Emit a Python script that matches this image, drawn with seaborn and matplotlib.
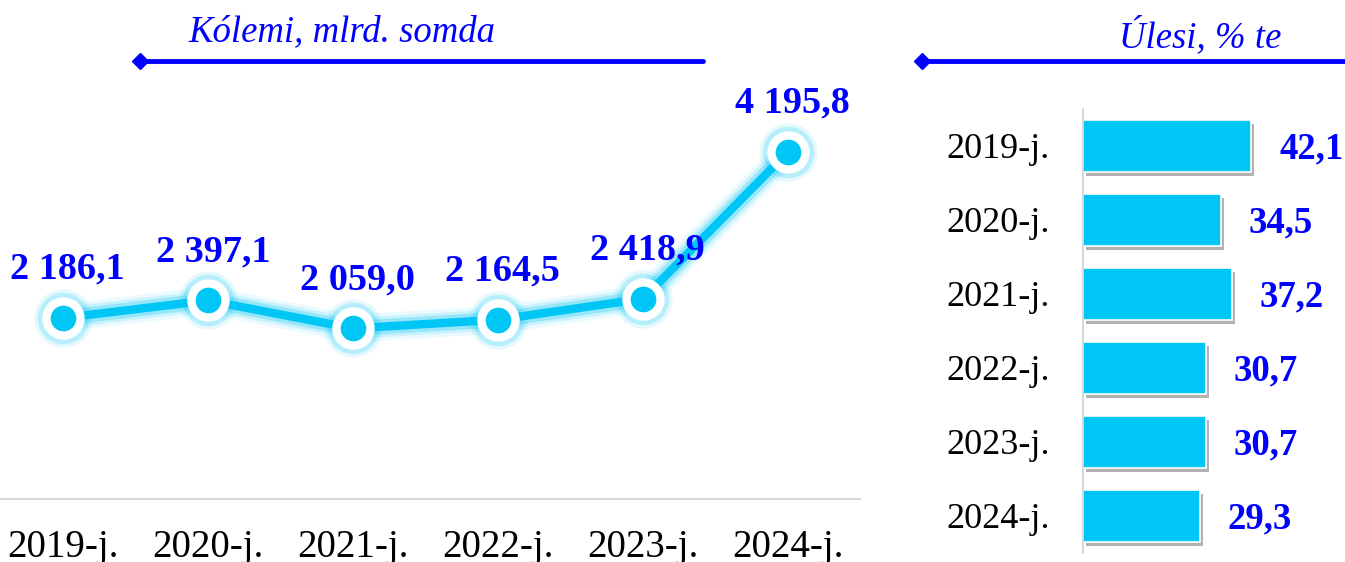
import matplotlib
matplotlib.use("Agg")
import matplotlib.pyplot as plt
import matplotlib.patheffects as pe
from matplotlib.lines import Line2D
import seaborn as sns
import pandas as pd

# data
years = ["2019-j.", "2020-j.", "2021-j.", "2022-j.", "2023-j.", "2024-j."]
volume = [2186.1, 2397.1, 2059.0, 2164.5, 2418.9, 4195.8]
volume_labels = ["2 186,1", "2 397,1", "2 059,0", "2 164,5", "2 418,9", "4 195,8"]
share = [42.1, 34.5, 37.2, 30.7, 30.7, 29.3]
share_labels = ["42,1", "34,5", "37,2", "30,7", "30,7", "29,3"]

left_title = "Kólemi, mlrd. somda"
right_title = "Úlesi, % te"

sns.set_style("white")
plt.rcParams["font.family"] = ["Liberation Serif", "DejaVu Serif"]

BLUE = "#0000FF"
CYAN = "#00C6F5"

W, H = 1345, 562
fig = plt.figure(figsize=(W / 100, H / 100), dpi=100)

# ---- left: line chart of volume
df = pd.DataFrame({"pos": range(len(years)), "volume": volume})
ax1 = fig.add_axes([0, 63.5 / H, 860 / W, 498.5 / H])

# soft glow under the line
for lw, a in [(20, 0.08), (15, 0.14), (11, 0.25)]:
    sns.lineplot(data=df, x="pos", y="volume", ax=ax1, color=CYAN, lw=lw,
                 alpha=a, solid_capstyle="round")
sns.lineplot(data=df, x="pos", y="volume", ax=ax1, color=CYAN, lw=6)

# glow around the markers
for ms, a in [(42, 0.10), (37, 0.2)]:
    ax1.plot(df["pos"], df["volume"], ls="none", marker="o", ms=ms,
             color=CYAN, alpha=a, mew=0)
ax1.plot(df["pos"], df["volume"], ls="none", marker="o", ms=24.5,
         mfc=CYAN, mec="white", mew=6)

for x, y, lab in zip(df["pos"], df["volume"], volume_labels):
    ax1.annotate(lab, (x, y), xytext=(3.5, 35), textcoords="offset points",
                 ha="center", va="center", fontsize=27.5, fontweight="bold",
                 color=BLUE)

ax1.set_xlim(-63 / 145, 5 + 72 / 145)
ax1.set_ylim(0, 498.5 / 0.0826)
ax1.set_xticks(range(len(years)))
ax1.set_xticklabels(years, fontsize=28, color="black")
ax1.set_yticks([])
ax1.set_xlabel("")
ax1.set_ylabel("")
ax1.tick_params(axis="x", length=0, pad=22)
for s in ["top", "left", "right"]:
    ax1.spines[s].set_visible(False)
ax1.spines["bottom"].set_color("#D9D9D9")
ax1.spines["bottom"].set_linewidth(1.5)
ax1.patch.set_alpha(0)

# ---- right: horizontal bars of share
dfs = pd.DataFrame({"year": years, "share": share})
ax2 = fig.add_axes([1083 / W, 9 / H, 262 / W, 444 / H])
sns.barplot(data=dfs, x="share", y="year", orient="h", ax=ax2, color=CYAN,
            width=0.7, saturation=1, edgecolor="white", linewidth=1.2)
for bar in ax2.patches:
    bar.set_path_effects([pe.SimplePatchShadow(offset=(2, -3), shadow_rgbFace="#555555",
                                               alpha=0.45), pe.Normal()])
for i, (v, lab) in enumerate(zip(share, share_labels)):
    ax2.annotate(lab, (v, i), xytext=(20, -2), textcoords="offset points",
                 ha="left", va="center", fontsize=26.5, fontweight="bold",
                 color=BLUE)

ax2.set_xlim(0, 65.5)
ax2.set_ylim(5.5, -0.5)
ax2.set_xticks([])
ax2.set_xlabel("")
ax2.set_ylabel("")
ax2.tick_params(axis="y", length=0, pad=24, labelsize=26, labelcolor="black")
for s in ["top", "bottom", "right"]:
    ax2.spines[s].set_visible(False)
ax2.spines["left"].set_color("#D0D0D0")
ax2.spines["left"].set_linewidth(1.2)
ax2.patch.set_alpha(0)

# ---- headers with arrow-like lines
fig.text(342 / W, 1 - 32 / H, left_title, ha="center", va="center",
         style="italic", fontsize=26.5, color=BLUE)
fig.text(1200 / W, 1 - 36 / H, right_title, ha="center", va="center",
         style="italic", fontsize=26.5, color=BLUE)
for x0, x1 in [(140, 703), (922, 1345)]:
    fig.add_artist(Line2D([x0 / W, x1 / W], [1 - 60.5 / H] * 2, color=BLUE,
                          lw=3.5, marker="D", ms=8, markevery=[0],
                          transform=fig.transFigure))

fig.savefig("out.png", dpi=100)
